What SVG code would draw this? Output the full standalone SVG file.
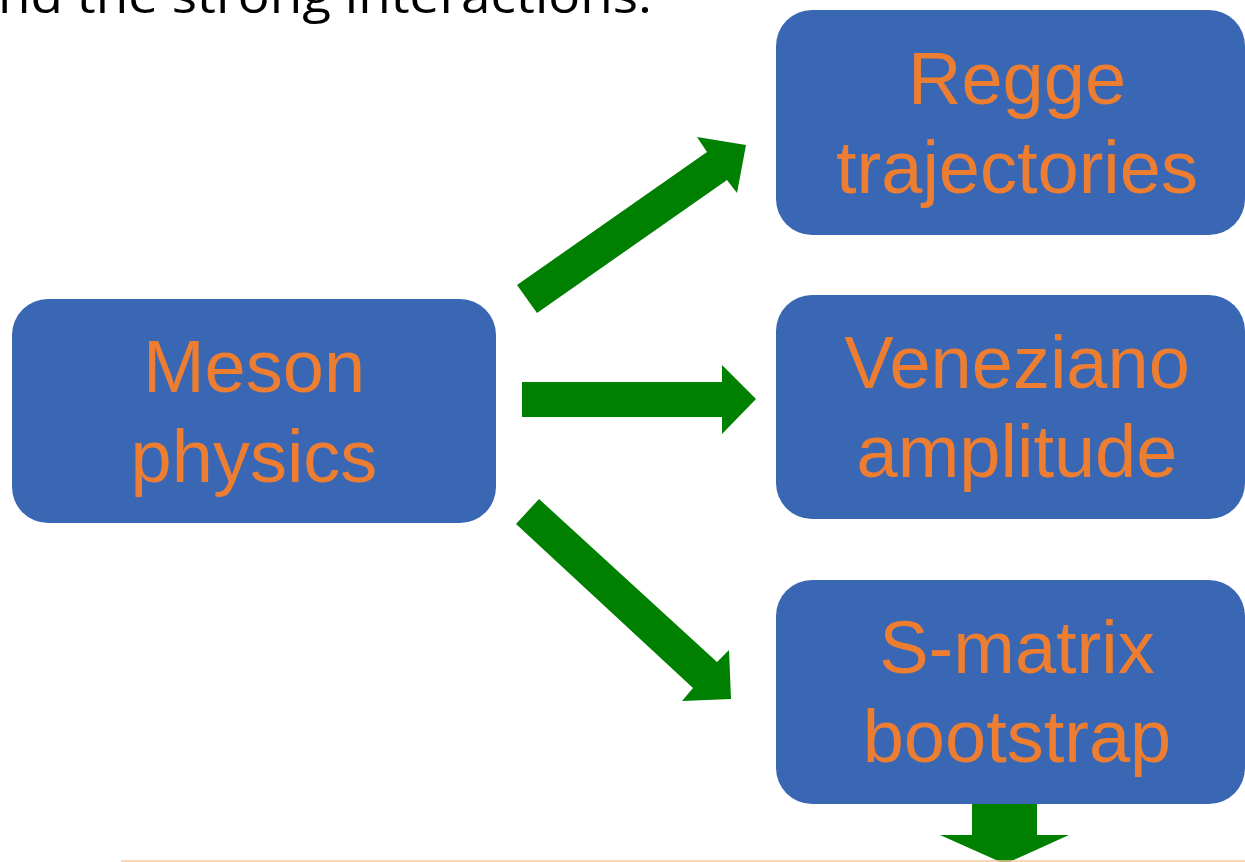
<svg xmlns="http://www.w3.org/2000/svg" width="1245" height="862" viewBox="0 0 1245 862">
<style>
.box{fill:#3A67B4}
.lbl{font-family:"Liberation Sans",Arial,sans-serif;font-size:74px;fill:#ED7D31;text-anchor:middle}
.arr{fill:#008000}
.title{font-family:"Open Sans","Noto Sans",sans-serif;font-size:47px;fill:#000}
</style>
<rect width="1245" height="862" fill="#fff"/>
<text class="title" x="-2" y="13" textLength="654" lengthAdjust="spacingAndGlyphs">nd the strong interactions.</text>
<g id="connectors">
<polygon class="arr" points="517,285 707,152 697,137 746,145 737,193 727,180 537,313"/>
<polygon class="arr" points="522,382 722,382 722,365 756,399 722,434 722,417 522,417"/>
<polygon class="arr" points="516,524 539,499 717,662 729,650 731,699 682,701 693,688"/>
<polygon class="arr" points="972,804 1037,804 1037,835 1069,835 1005,864 940,835 972,835"/>
</g>
<g id="meson">
<rect class="box" x="12" y="299" width="484" height="224" rx="36"/>
<text class="lbl" x="254" y="392">Meson</text>
<text class="lbl" x="254" y="482">physics</text>
</g>
<g id="regge">
<rect class="box" x="776" y="10" width="469" height="225" rx="36"/>
<text class="lbl" x="1017" y="104">Regge</text>
<text class="lbl" x="1017" y="193">trajectories</text>
</g>
<g id="veneziano">
<rect class="box" x="776" y="295" width="469" height="224" rx="36"/>
<text class="lbl" x="1017" y="388">Veneziano</text>
<text class="lbl" x="1017" y="477">amplitude</text>
</g>
<g id="smatrix">
<rect class="box" x="776" y="580" width="469" height="224" rx="36"/>
<text class="lbl" x="1017" y="673">S-matrix</text>
<text class="lbl" x="1017" y="762">bootstrap</text>
</g>
<line x1="121" y1="861" x2="1245" y2="861" stroke="#F6CA9C" stroke-width="1.5"/>
</svg>
